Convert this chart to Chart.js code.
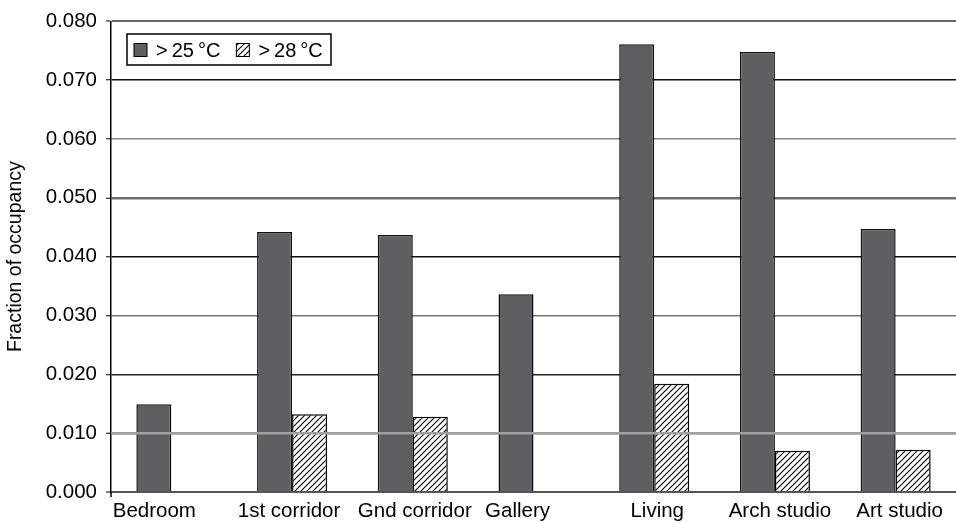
<!DOCTYPE html>
<html>
<head>
<meta charset="utf-8">
<script src="https://cdn.jsdelivr.net/npm/chart.js@4.4.1/dist/chart.umd.min.js"></script>
<style>
  html, body { margin: 0; padding: 0; background: #fff; }
  #wrap { width: 956px; height: 523px; position: relative; }
</style>
</head>
<body>
<div id="wrap"><canvas id="c" width="956" height="523"></canvas></div>
<script>
// Rooms and overheating fractions
const rooms = ['Bedroom', '1st corridor', 'Gnd corridor', 'Gallery', 'Living', 'Arch studio', 'Art studio'];
const over25 = [0.0149, 0.0442, 0.0437, 0.0336, 0.0761, 0.0748, 0.0447];
const over28 = [null, 0.0132, 0.0128, null, 0.0184, 0.0070, 0.0072];
const seriesLabels = ['>\u200925\u2009\u00b0C', '>\u200928\u2009\u00b0C'];
const yTicks = [0, 0.01, 0.02, 0.03, 0.04, 0.05, 0.06, 0.07, 0.08];

// Label nudges (px) for the room names under each group
const labelShift = [-17, -3, 2, -16, 3, 5, 4];
// Per-gridline stroke styles, bottom to top
const gridColors = ['#555', '#a0a0a0', '#222', '#777', '#111', '#6e6e6e', '#888', '#111', '#666'];
const gridWidths = [2, 2.5, 1.5, 1.5, 1.5, 2.5, 1.5, 1.5, 2];

const FONT = '"Liberation Sans", Arial, Helvetica, sans-serif';

function hatchPattern() {
  const s = 6;
  const c = document.createElement('canvas');
  c.width = s; c.height = s;
  const g = c.getContext('2d');
  g.fillStyle = '#fff';
  g.fillRect(0, 0, s, s);
  g.strokeStyle = '#000';
  g.lineWidth = 1.1;
  g.beginPath();
  g.moveTo(-1, s + 1); g.lineTo(s + 1, -1);
  g.moveTo(-1, 1); g.lineTo(1, -1);
  g.moveTo(s - 1, s + 1); g.lineTo(s + 1, s - 1);
  g.stroke();
  return document.getElementById('c').getContext('2d').createPattern(c, 'repeat');
}
const hatch = hatchPattern();

const boxedLegend = {
  id: 'boxedLegend',
  afterDraw(chart) {
    const ctx = chart.ctx;
    const x0 = 127, y0 = 34, w = 204, h = 31;
    ctx.save();
    ctx.fillStyle = '#fff';
    ctx.fillRect(x0, y0, w, h);
    ctx.strokeStyle = '#000';
    ctx.lineWidth = 1.5;
    ctx.strokeRect(x0, y0, w, h);
    ctx.font = '20px ' + FONT;
    ctx.textBaseline = 'middle';
    let x = x0 + 7;
    const cy = y0 + h / 2 + 0.5;
    chart.data.datasets.forEach((ds) => {
      ctx.fillStyle = ds.backgroundColor;
      ctx.fillRect(x, cy - 6.5, 13, 13);
      ctx.strokeStyle = '#000';
      ctx.lineWidth = 1;
      ctx.strokeRect(x, cy - 6.5, 13, 13);
      ctx.fillStyle = '#000';
      ctx.fillText(ds.label, x + 22, cy + 1);
      x += 22 + ctx.measureText(ds.label).width + 16;
    });
    ctx.restore();
  }
};

const roomLabels = {
  id: 'roomLabels',
  afterDatasetsDraw(chart) {
    const ctx = chart.ctx;
    const ys = chart.scales.y;
    // the 0.010 rule sits on top of the bars
    ctx.save();
    ctx.strokeStyle = gridColors[1];
    ctx.lineWidth = gridWidths[1];
    const y1 = ys.getPixelForValue(0.01);
    ctx.beginPath();
    ctx.moveTo(chart.chartArea.left, y1);
    ctx.lineTo(chart.chartArea.right, y1);
    ctx.stroke();
    // axis line runs a little past zero
    ctx.strokeStyle = '#000';
    ctx.lineWidth = 1.5;
    ctx.beginPath();
    ctx.moveTo(chart.chartArea.left, chart.chartArea.bottom);
    ctx.lineTo(chart.chartArea.left, chart.chartArea.bottom + 5);
    ctx.stroke();
    ctx.restore();
  },
  afterDraw(chart) {
    const ctx = chart.ctx;
    const xs = chart.scales.x;
    ctx.save();
    ctx.font = '20.5px ' + FONT;
    ctx.fillStyle = '#000';
    ctx.textAlign = 'center';
    ctx.textBaseline = 'middle';
    rooms.forEach((r, i) => {
      ctx.fillText(r, xs.getPixelForValue(i) + labelShift[i], chart.chartArea.bottom + 19);
    });
    ctx.restore();
  }
};

new Chart(document.getElementById('c'), {
  type: 'bar',
  data: {
    labels: rooms,
    datasets: [
      {
        label: seriesLabels[0],
        data: over25,
        backgroundColor: '#5e5f63',
        borderColor: '#111',
        borderWidth: 1.5,
        borderSkipped: 'start'
      },
      {
        label: seriesLabels[1],
        data: over28,
        backgroundColor: hatch,
        borderColor: '#000',
        borderWidth: 1.5,
        borderSkipped: 'start'
      }
    ]
  },
  options: {
    responsive: false,
    animation: false,
    devicePixelRatio: 1,
    layout: { padding: { top: 18, right: 0, left: 0, bottom: 0 } },
    datasets: { bar: { barPercentage: 1, categoryPercentage: 0.58 } },
    plugins: {
      legend: { display: false },
      tooltip: { enabled: false }
    },
    scales: {
      x: {
        grid: { display: false },
        border: { display: false },
        ticks: { display: false },
        afterFit(s) { s.height = 31; }
      },
      y: {
        min: 0,
        max: 0.08,
        afterBuildTicks(s) { s.ticks = yTicks.map(v => ({ value: v })); },
        afterFit(s) { s.width = 111; },
        border: { display: true, color: '#000', width: 1.5 },
        grid: {
          color: c => gridColors[c.index] || '#888',
          lineWidth: c => gridWidths[c.index] || 1,
          tickColor: '#000',
          tickLength: 5,
          tickWidth: 1
        },
        ticks: {
          padding: 9,
          color: '#000',
          font: { family: FONT, size: 20.5 },
          callback: v => Number(v).toFixed(3)
        },
        title: {
          display: true,
          text: 'Fraction of occupancy',
          color: '#000',
          font: { family: FONT, size: 19.5 },
          padding: { top: 4, bottom: 0 }
        }
      }
    }
  },
  plugins: [roomLabels, boxedLegend]
});
</script>
</body>
</html>
